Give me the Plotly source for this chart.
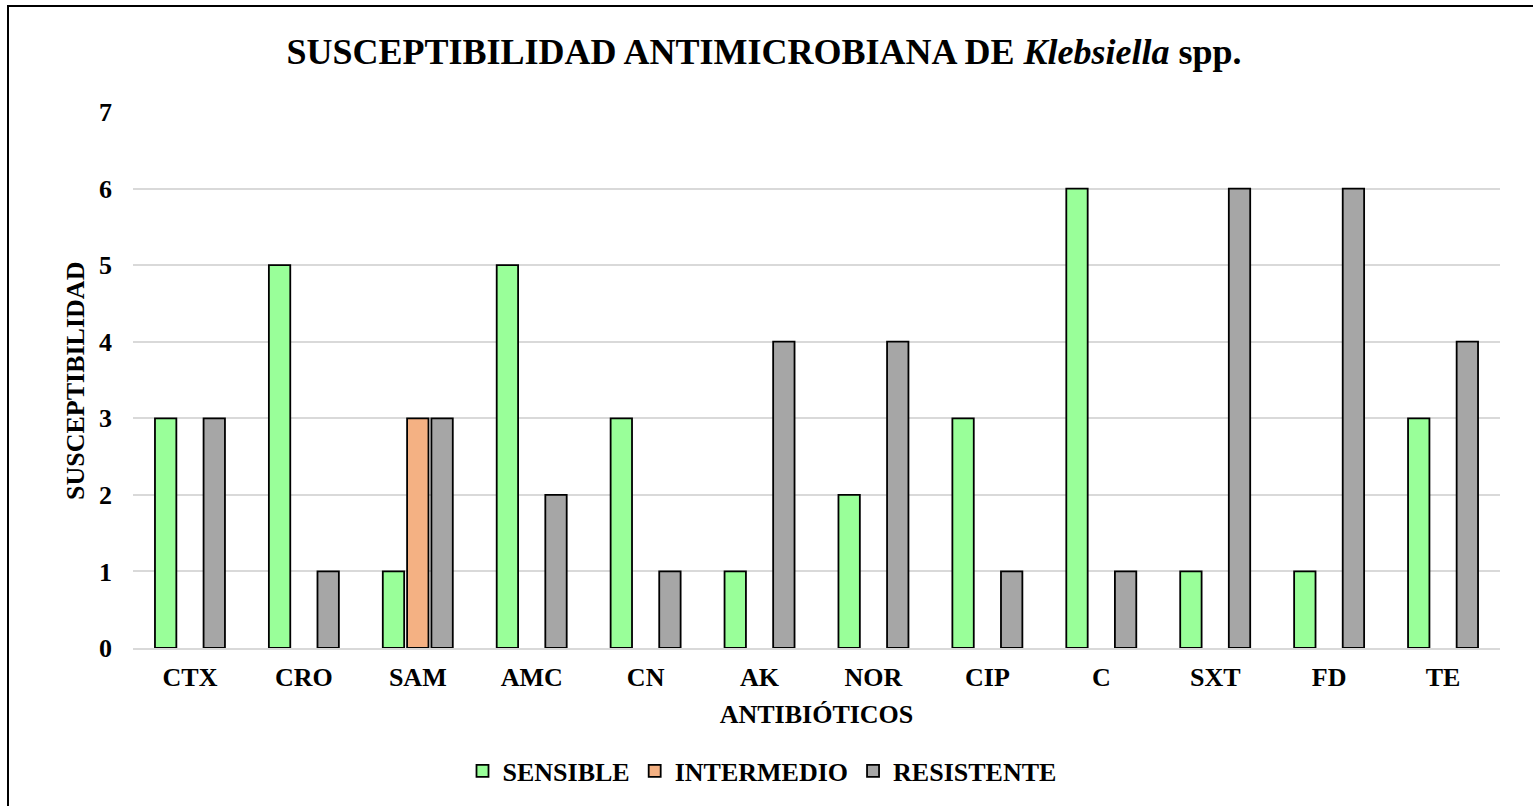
import plotly.graph_objects as go

categories = ["CTX", "CRO", "SAM", "AMC", "CN", "AK", "NOR", "CIP", "C", "SXT", "FD", "TE"]
sensible = [3, 5, 1, 5, 3, 1, 2, 3, 6, 1, 1, 3]
intermedio = [None, None, 3, None, None, None, None, None, None, None, None, None]
resistente = [3, 1, 3, 2, 1, 4, 4, 1, 1, 6, 6, 4]
y_ticks = [0, 1, 2, 3, 4, 5, 6, 7]

FONT = "Liberation Serif"
W, H = 1533, 806
ml, mr, mt, mb = 133, 33, 112, 158

fig = go.Figure()
for name, vals, col in [("SENSIBLE", sensible, "#99FF99"),
                        ("INTERMEDIO", intermedio, "#F4B183"),
                        ("RESISTENTE", resistente, "#A6A6A6")]:
    fig.add_trace(go.Bar(x=categories, y=vals, name=name,
                         marker=dict(color=col, line=dict(color="black", width=1.8))))

pw = W - ml - mr
ph = H - mt - mb
fig.add_shape(type="rect", xref="paper", yref="paper",
              x0=(8 - ml) / pw, x1=(W + 20 - ml) / pw,
              y0=-(H + 20 - mt - ph) / ph, y1=(H - mb - 6) / ph,
              line=dict(color="black", width=2), fillcolor="rgba(0,0,0,0)", layer="below")

fig.add_annotation(text="SUSCEPTIBILIDAD", textangle=-90, showarrow=False,
                   xref="paper", yref="paper", x=(75 - ml) / pw, y=(H - mb - 381) / ph,
                   xanchor="center", yanchor="middle",
                   font=dict(family=FONT, size=26, color="black", weight="bold"))

fig.update_layout(
    width=W, height=H,
    margin=dict(l=ml, r=mr, t=mt, b=mb, autoexpand=False),
    paper_bgcolor="white", plot_bgcolor="white",
    barmode="group", bargap=0.36, bargroupgap=0.12,
    title=dict(text="SUSCEPTIBILIDAD ANTIMICROBIANA DE <i>Klebsiella</i> spp.",
               x=(764 / W), xref="container", xanchor="center", yref="container", y=1 - 51 / H, yanchor="middle",
               font=dict(family=FONT, size=36, color="black", weight="bold")),
    font=dict(family=FONT, color="black", weight="bold"),
    xaxis=dict(title=dict(text="ANTIBIÓTICOS", font=dict(size=26, weight="bold"), standoff=14),
               tickfont=dict(size=26, weight="bold"), showgrid=False, automargin=False,
               showline=True, linecolor="#D9D9D9", linewidth=1.5, ticks="", ticklabelstandoff=5),
    yaxis=dict(tickfont=dict(size=26, weight="bold"), range=[0, 7], tickvals=y_ticks, automargin=False,
               showgrid=True, gridcolor="#D9D9D9", gridwidth=1.5, zeroline=False,
               ticks="", ticklabelstandoff=20),
    legend=dict(orientation="h", xref="container", x=762 / W, xanchor="center", y=-(771 - 648) / ph, yanchor="middle",
                font=dict(size=26, weight="bold"), traceorder="normal"),
)

fig.write_html("out.html", config={"displayModeBar": False},
               post_script="document.body.style.margin='0';")
